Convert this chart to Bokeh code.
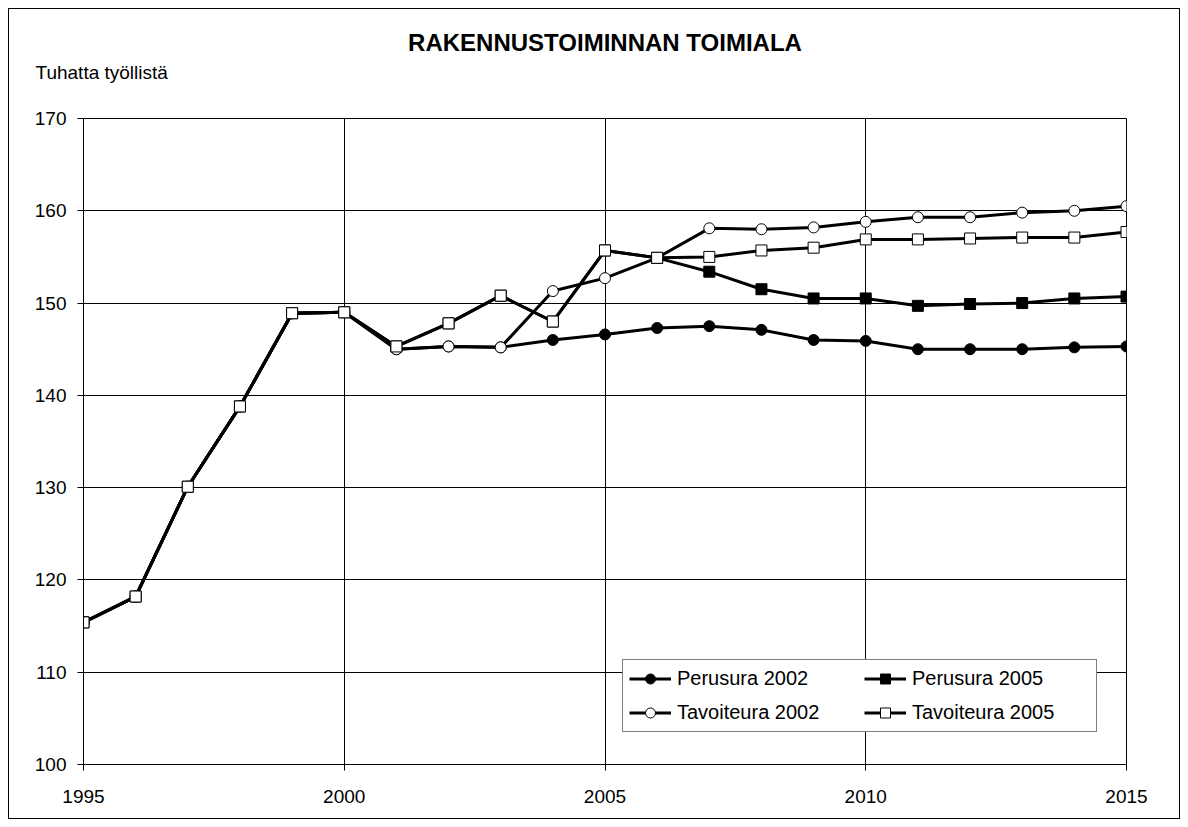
from bokeh.plotting import figure
from bokeh.models import FixedTicker, Legend, LegendItem, Title
from bokeh.embed import file_html
from bokeh.resources import INLINE

years = list(range(1995, 2016))

perusura_2002 = [115.4, 118.2, 130.1, 138.8, 148.9, 149.0, 145.0, 145.3, 145.2, 146.0,
                 146.6, 147.3, 147.5, 147.1, 146.0, 145.9, 145.0, 145.0, 145.0, 145.2, 145.3]
perusura_2005 = [115.4, 118.2, 130.1, 138.8, 148.9, 149.0, 145.3, 147.8, 150.8, 148.0,
                 155.7, 154.9, 153.4, 151.5, 150.5, 150.5, 149.7, 149.9, 150.0, 150.5, 150.7]
tavoiteura_2002 = [115.4, 118.2, 130.1, 138.8, 148.9, 149.0, 145.0, 145.3, 145.2, 151.3,
                   152.7, 154.9, 158.1, 158.0, 158.2, 158.8, 159.3, 159.3, 159.8, 160.0, 160.5]
tavoiteura_2005 = [115.4, 118.2, 130.1, 138.8, 148.9, 149.0, 145.3, 147.8, 150.8, 148.0,
                   155.7, 154.9, 155.0, 155.7, 156.0, 156.9, 156.9, 157.0, 157.1, 157.1, 157.7]

x_ticks = [1995, 2000, 2005, 2010, 2015]
y_ticks = [100, 110, 120, 130, 140, 150, 160, 170]

title_text = "RAKENNUSTOIMINNAN TOIMIALA"
ylabel_text = "Tuhatta työllistä"

FONT = "Liberation Sans"

p = figure(frame_width=1043, frame_height=646, title=None,
           min_border_left=74, min_border_right=53, min_border_top=109, min_border_bottom=54,
           x_range=(1995, 2015), y_range=(100, 170),
           output_backend="svg", toolbar_location=None, tools="")
p.styles = {"border": "1px solid black", "margin-left": "8px", "margin-top": "8px"}
p.outline_line_color = "black"
p.outline_line_width = 1
p.background_fill_color = "white"
p.border_fill_color = "white"

for ax in (p.xaxis[0], p.yaxis[0]):
    ax.axis_line_color = "black"
    ax.axis_line_width = 1
    ax.major_tick_line_color = "black"
    ax.major_tick_out = 6
    ax.major_tick_in = 0
    ax.minor_tick_line_color = None
    ax.major_label_text_font = FONT
    ax.major_label_text_font_size = "19px"
    ax.major_label_text_color = "black"

p.xaxis.ticker = FixedTicker(ticks=x_ticks)
p.yaxis.ticker = FixedTicker(ticks=y_ticks)
p.xaxis.major_label_standoff = 19
p.yaxis.major_label_standoff = 11

p.xgrid.ticker = FixedTicker(ticks=x_ticks)
p.ygrid.ticker = FixedTicker(ticks=y_ticks)
p.xgrid.grid_line_color = "black"
p.ygrid.grid_line_color = "black"
p.xgrid.grid_line_width = 1
p.ygrid.grid_line_width = 1

LW = 3
MS = 11

r1l = p.line(years, perusura_2002, line_color="black", line_width=LW)
r1m = p.scatter(years, perusura_2002, marker="circle", size=MS, fill_color="black", line_color="black")
r2l = p.line(years, perusura_2005, line_color="black", line_width=LW)
r2m = p.scatter(years, perusura_2005, marker="square", size=MS, fill_color="black", line_color="black")
r3l = p.line(years, tavoiteura_2002, line_color="black", line_width=LW)
r3m = p.scatter(years, tavoiteura_2002, marker="circle", size=MS, fill_color="white", line_color="black")
r4l = p.line(years, tavoiteura_2005, line_color="black", line_width=LW)
r4m = p.scatter(years, tavoiteura_2005, marker="square", size=MS, fill_color="white", line_color="black")

legend = Legend(items=[
    LegendItem(label="Perusura 2002", renderers=[r1l, r1m]),
    LegendItem(label="Tavoiteura 2002", renderers=[r3l, r3m]),
    LegendItem(label="Perusura 2005", renderers=[r2l, r2m]),
    LegendItem(label="Tavoiteura 2005", renderers=[r4l, r4m]),
], ncols=2, location=(539, 32))
legend.label_text_font = FONT
legend.label_text_font_size = "20px"
legend.label_text_color = "black"
legend.glyph_width = 42
legend.glyph_height = 25
legend.label_standoff = 6
legend.label_height = 25
legend.label_width = 178
legend.spacing = 9
legend.padding = 6
legend.margin = 0
legend.border_line_color = "black"
legend.border_line_width = 1
legend.background_fill_color = "white"
legend.background_fill_alpha = 1
p.add_layout(legend, "center")

p.add_layout(Title(text=ylabel_text, align="left", offset=-48, standoff=71,
                   text_font=FONT, text_font_size="19px", text_font_style="normal",
                   text_color="black"), "above")
p.add_layout(Title(text=title_text, align="center", standoff=-63,
                   text_font=FONT, text_font_size="24px", text_font_style="bold",
                   text_color="black"), "above")

open("out.html", "w").write(file_html(p, INLINE))
